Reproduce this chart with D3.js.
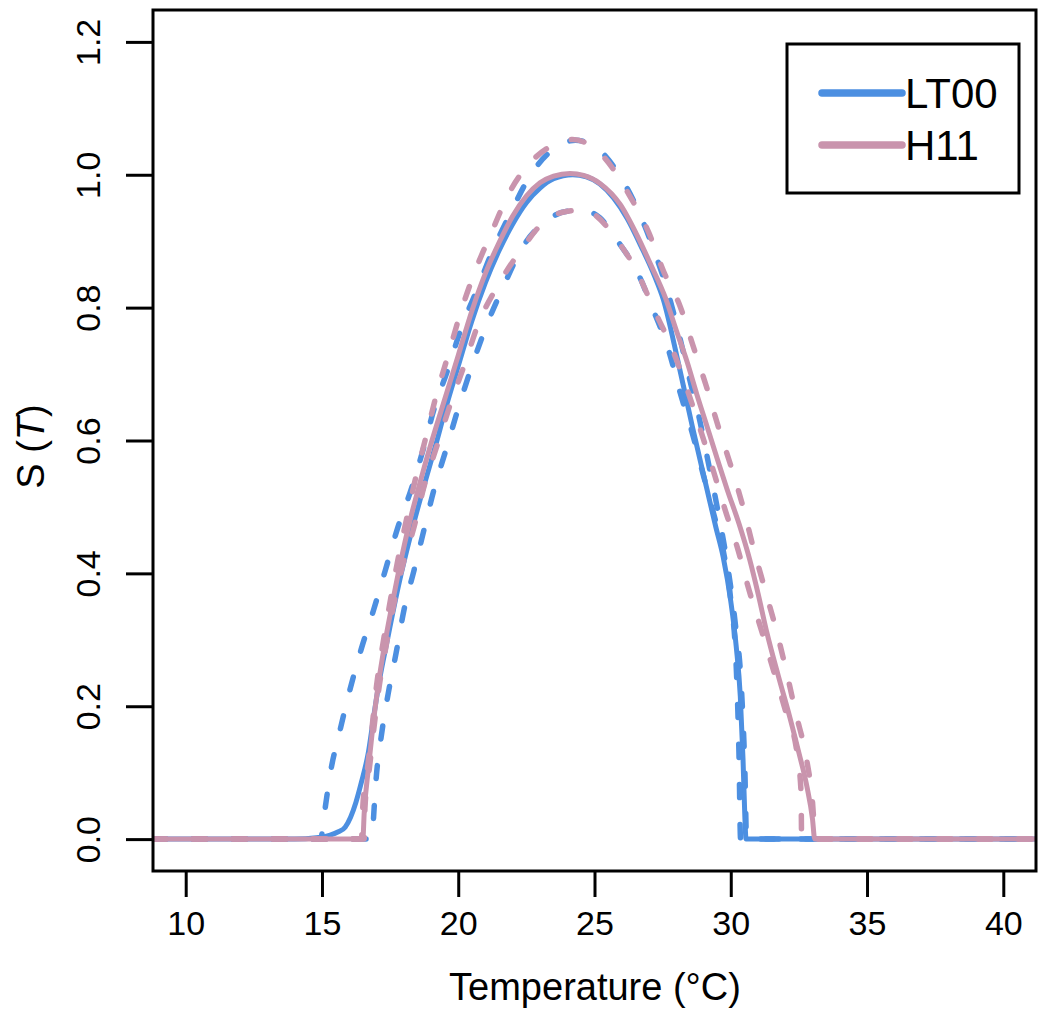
<!DOCTYPE html>
<html><head><meta charset="utf-8">
<script src="https://cdn.jsdelivr.net/npm/d3@7"></script>
<style>html,body{margin:0;padding:0;background:#fff}svg{display:block;font-family:"Liberation Sans",Arial,sans-serif}</style>
</head><body><svg id="chart" width="1050" height="1020"></svg>
<script>
// ---- data (Temperature °C, S(T)) ----
const xTicks = [10, 15, 20, 25, 30, 35, 40];
const yTicks = [0.0, 0.2, 0.4, 0.6, 0.8, 1.0, 1.2];
const seriesNames = ["LT00", "H11"];
const seriesColors = ["#4c8fe1", "#c994ad"];

const lt00Fit = [[8.8,0],[14.0,0],[14.8,0.002],[15.3,0.006],[15.6,0.011],[15.85,0.018],[16.05,0.033],[16.25,0.056],[16.45,0.086],[16.7,0.13],[16.9,0.185],[17.1,0.237],[17.4,0.3],[17.8,0.38],[18.3,0.465],[18.8,0.54],[19.2,0.597],[19.55,0.65],[20.0,0.712],[20.5,0.78],[21.0,0.838],[21.5,0.886],[22.0,0.926],[22.5,0.958],[23.0,0.98],[23.5,0.994],[24.2,1.0],[24.7,0.997],[25.2,0.986],[25.7,0.965],[26.2,0.934],[26.7,0.893],[27.2,0.848],[27.52,0.813],[28.07,0.718],[28.59,0.621],[29.13,0.526],[29.45,0.47],[29.72,0.425],[30.0,0.358],[30.2,0.29],[30.35,0.215],[30.45,0.12],[30.52,0.03],[30.56,0],[41.2,0]];
const lt00Upper = [[8.8,0],[14.95,0],[15.09,0.039],[15.31,0.1],[15.64,0.16],[16.04,0.227],[16.44,0.286],[16.88,0.343],[17.32,0.404],[17.79,0.47],[18.27,0.526],[18.71,0.586],[19.11,0.647],[19.62,0.707],[20.1,0.768],[20.72,0.83],[21.2,0.88],[21.89,0.94],[22.66,1.0],[23.65,1.043],[24.3,1.052],[24.96,1.044],[25.95,0.997],[26.68,0.939],[27.23,0.881],[27.71,0.821],[28.1,0.76],[28.51,0.689],[28.88,0.627],[29.17,0.568],[29.5,0.5],[29.85,0.42],[30.15,0.33],[30.4,0.22],[30.52,0.1],[30.58,0],[41.2,0]];
const lt00Lower = [[8.8,0],[16.85,0],[16.88,0.023],[16.99,0.092],[17.17,0.153],[17.43,0.219],[17.72,0.28],[18.01,0.345],[18.38,0.405],[18.74,0.465],[19.11,0.526],[19.55,0.586],[19.99,0.647],[20.46,0.707],[20.99,0.768],[21.67,0.833],[22.33,0.889],[23.28,0.932],[24.0,0.945],[24.6,0.946],[25.2,0.935],[25.8,0.903],[26.6,0.851],[27.12,0.8],[27.74,0.733],[28.15,0.671],[28.59,0.611],[29.0,0.547],[29.39,0.487],[29.72,0.435],[30.0,0.36],[30.2,0.26],[30.3,0.13],[30.36,0],[41.2,0]];

const h11Fit = [[8.8,0],[16.5,0],[16.55,0.04],[16.7,0.105],[16.85,0.163],[17.05,0.228],[17.3,0.293],[17.55,0.348],[17.85,0.41],[18.22,0.478],[18.6,0.537],[19.0,0.595],[19.45,0.655],[20.0,0.728],[20.5,0.795],[21.0,0.852],[21.5,0.898],[22.0,0.938],[22.5,0.968],[23.0,0.988],[23.5,0.998],[24.1,1.002],[24.6,0.999],[25.2,0.987],[25.95,0.955],[26.55,0.91],[27.05,0.866],[27.6,0.815],[28.0,0.766],[28.4,0.718],[28.75,0.67],[29.13,0.621],[29.5,0.573],[29.87,0.526],[30.3,0.475],[30.7,0.42],[31.0,0.37],[31.33,0.31],[31.75,0.245],[32.17,0.183],[32.5,0.13],[32.8,0.078],[33.0,0.03],[33.08,0],[41.2,0]];
const h11Upper = [[8.8,0],[16.45,0],[16.5,0.05],[16.68,0.11],[16.83,0.165],[17.0,0.23],[17.24,0.295],[17.47,0.35],[17.76,0.415],[18.1,0.481],[18.45,0.546],[18.82,0.606],[19.18,0.666],[19.62,0.727],[20.09,0.793],[20.61,0.854],[21.23,0.914],[21.82,0.969],[22.66,1.019],[23.4,1.043],[24.2,1.053],[25.29,1.029],[26.24,0.972],[26.98,0.914],[27.53,0.855],[28.15,0.801],[28.62,0.742],[29.1,0.682],[29.54,0.621],[30.01,0.561],[30.45,0.5],[30.82,0.44],[31.26,0.375],[31.7,0.31],[32.06,0.249],[32.39,0.189],[32.76,0.125],[32.98,0.065],[33.12,0],[41.2,0]];
const h11Lower = [[8.8,0],[16.55,0],[16.58,0.05],[16.75,0.11],[16.9,0.165],[17.1,0.23],[17.35,0.29],[17.62,0.35],[17.95,0.41],[18.38,0.47],[18.74,0.53],[19.26,0.597],[19.73,0.657],[20.21,0.712],[20.76,0.778],[21.45,0.833],[22.29,0.886],[23.2,0.931],[24.0,0.945],[24.6,0.947],[25.0,0.94],[25.8,0.903],[26.6,0.851],[27.15,0.8],[27.85,0.738],[28.4,0.677],[28.88,0.617],[29.35,0.556],[29.79,0.496],[30.27,0.435],[30.67,0.375],[31.15,0.311],[31.59,0.251],[32.03,0.19],[32.43,0.13],[32.58,0.07],[32.6,0],[41.2,0]];

// ---- layout ----
const L = 153, R = 1036, T = 10, B = 871;
const svg = d3.select("#chart");
const x = d3.scaleLinear().domain([8.8, 41.2]).range([L, R]);
const y = d3.scaleLinear().domain([-0.048, 1.248]).range([B, T]);

svg.append("defs").append("clipPath").attr("id","clip")
  .append("rect").attr("x", L).attr("y", T).attr("width", R-L).attr("height", B-T);

const line = d3.line().x(d => x(d[0])).y(d => y(d[1])).curve(d3.curveMonotoneX);
const g = svg.append("g").attr("clip-path","url(#clip)");

const curves = [
  {d: lt00Fit, c: 0, dash: false},
  {d: lt00Upper, c: 0, dash: true},
  {d: lt00Lower, c: 0, dash: true},
  {d: h11Fit, c: 1, dash: false},
  {d: h11Upper, c: 1, dash: true},
  {d: h11Lower, c: 1, dash: true}
];
curves.forEach(cv => {
  g.append("path").datum(cv.d)
    .attr("d", line)
    .attr("fill","none")
    .attr("stroke", seriesColors[cv.c])
    .attr("stroke-width", cv.dash ? 5.5 : 5)
    .attr("stroke-linecap","round")
    .attr("stroke-linejoin","round")
    .attr("stroke-dasharray", cv.dash ? "13,27" : null);
});

// ---- box ----
svg.append("rect").attr("x", L).attr("y", T).attr("width", R-L).attr("height", B-T)
  .attr("fill","none").attr("stroke","#000").attr("stroke-width",3);

// ---- axes ----
const xAxis = svg.append("g").attr("transform", `translate(0,${B})`)
  .call(d3.axisBottom(x).tickValues(xTicks).tickSize(26).tickPadding(14).tickFormat(d3.format("d")));
xAxis.select(".domain").remove();
xAxis.selectAll(".tick line").attr("stroke","#000").attr("stroke-width",3);
xAxis.selectAll(".tick text").attr("font-size", 34).attr("fill","#000")
  .attr("font-family","'Liberation Sans',Arial,sans-serif");

const yAxis = svg.append("g").attr("transform", `translate(${L},0)`)
  .call(d3.axisLeft(y).tickValues(yTicks).tickSize(27).tickFormat(d3.format(".1f")));
yAxis.select(".domain").remove();
yAxis.selectAll(".tick line").attr("stroke","#000").attr("stroke-width",3);
yAxis.selectAll(".tick text").remove();
yAxis.selectAll(".tick").append("text")
  .attr("transform", "translate(-53,0) rotate(-90)")
  .attr("text-anchor","middle")
  .attr("font-size", 34).attr("fill","#000")
  .attr("font-family","'Liberation Sans',Arial,sans-serif")
  .text(d => d3.format(".1f")(d));

// ---- axis titles ----
svg.append("text").attr("x", 595).attr("y", 1000).attr("text-anchor","middle")
  .attr("font-size", 38).attr("fill","#000").text("Temperature (°C)");

const yt = svg.append("text").attr("transform", `translate(44,${(T+B)/2 + 6}) rotate(-90)`)
  .attr("text-anchor","middle").attr("font-size", 38).attr("fill","#000");
yt.append("tspan").text("S (");
yt.append("tspan").attr("font-style","italic").text("T");
yt.append("tspan").text(")");

// ---- legend ----
const lg = svg.append("g");
lg.append("rect").attr("x", 787).attr("y", 44).attr("width", 232).attr("height", 149)
  .attr("fill","#fff").attr("stroke","#000").attr("stroke-width",3);
seriesNames.forEach((n, i) => {
  const ly = 93 + i*52;
  lg.append("line").attr("x1", 822).attr("x2", 902).attr("y1", ly).attr("y2", ly)
    .attr("stroke", seriesColors[i]).attr("stroke-width", 7.5).attr("stroke-linecap","round");
  lg.append("text").attr("x", 905).attr("y", ly + 15).attr("font-size", 42).attr("fill","#000").text(n);
});
</script></body></html>
